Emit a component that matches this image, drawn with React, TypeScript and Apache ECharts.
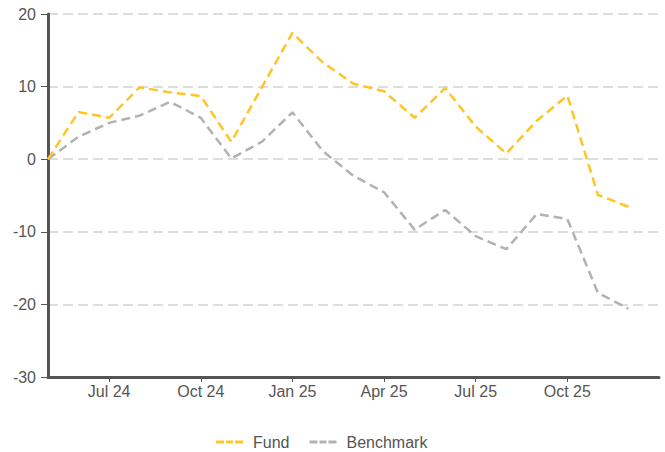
import React, { useEffect, useRef } from "react";
import * as echarts from "echarts";

const months = [
  "May 24", "Jun 24", "Jul 24", "Aug 24", "Sep 24", "Oct 24", "Nov 24", "Dec 24",
  "Jan 25", "Feb 25", "Mar 25", "Apr 25", "May 25", "Jun 25", "Jul 25", "Aug 25",
  "Sep 25", "Oct 25", "Nov 25", "Dec 25", "Jan 26",
];
const fund = [0, 6.5, 5.7, 9.9, 9.2, 8.7, 2.4, 9.9, 17.4, 13.3, 10.4, 9.35, 5.7, 9.8, 4.5, 0.8, 5.3, 8.75, -4.9, -6.55];
const benchmark = [0, 3.1, 5.0, 6.0, 7.9, 5.7, 0.1, 2.4, 6.45, 1.1, -2.3, -4.55, -9.7, -7.0, -10.6, -12.4, -7.55, -8.25, -18.4, -20.6];
const yTicks = { min: -30, max: 20, interval: 10 };

const dashIcon = "path://M0,0h8v3h-8z M10,0h7v3h-7z M19,0h8v3h-8z";

export default function App() {
  const ref = useRef<HTMLDivElement>(null);
  useEffect(() => {
    if (!ref.current) return;
    const chart = echarts.init(ref.current, undefined, { renderer: "svg" });
    const font = "'Liberation Sans', Arial, sans-serif";
    const showIdx = (i: number) => i % 3 === 2 && i < months.length - 1;
    chart.setOption({
      animation: false,
      grid: { left: 48, right: 6, top: 14, bottom: 75, containLabel: false },
      legend: {
        top: 429,
        left: 211,
        itemWidth: 27,
        itemHeight: 3,
        itemGap: 20,
        textStyle: { fontFamily: font, fontSize: 16, color: "#555", padding: [0, 0, 0, 5] },
        data: [
          { name: "Fund", icon: dashIcon },
          { name: "Benchmark", icon: dashIcon },
        ],
      },
      xAxis: {
        type: "category",
        data: months,
        boundaryGap: false,
        axisLine: { onZero: false, lineStyle: { color: "#555", width: 3 } },
        axisTick: { show: true, interval: (i: number) => showIdx(i), length: 5, lineStyle: { color: "#555", width: 1 } },
        axisLabel: {
          interval: (i: number) => showIdx(i),
          fontFamily: font,
          fontSize: 16,
          color: "#555",
          margin: 6,
        },
        splitLine: { show: false },
      },
      yAxis: {
        type: "value",
        min: yTicks.min,
        max: yTicks.max,
        interval: yTicks.interval,
        axisLine: { show: true, lineStyle: { color: "#555", width: 3 } },
        axisTick: { show: true, length: 7, lineStyle: { color: "#555", width: 1 } },
        axisLabel: { fontFamily: font, fontSize: 16, color: "#555", margin: 12 },
        splitLine: { lineStyle: { color: "#ddd", width: 2, type: [10, 5] } },
      },
      series: [
        {
          name: "Fund",
          type: "line",
          data: fund,
          symbol: "none",
          color: "#FFC526",
          lineStyle: { color: "#FFC526", width: 2.5, type: [9, 5] },
          z: 3,
        },
        {
          name: "Benchmark",
          type: "line",
          data: benchmark,
          symbol: "none",
          color: "#B2B2B2",
          lineStyle: { color: "#B2B2B2", width: 2.5, type: [9, 5] },
          z: 2,
        },
      ],
    });
    return () => chart.dispose();
  }, []);
  return (
    <div
      ref={ref}
      style={{ position: "absolute", left: 0, top: 0, width: 665, height: 452 }}
    />
  );
}
